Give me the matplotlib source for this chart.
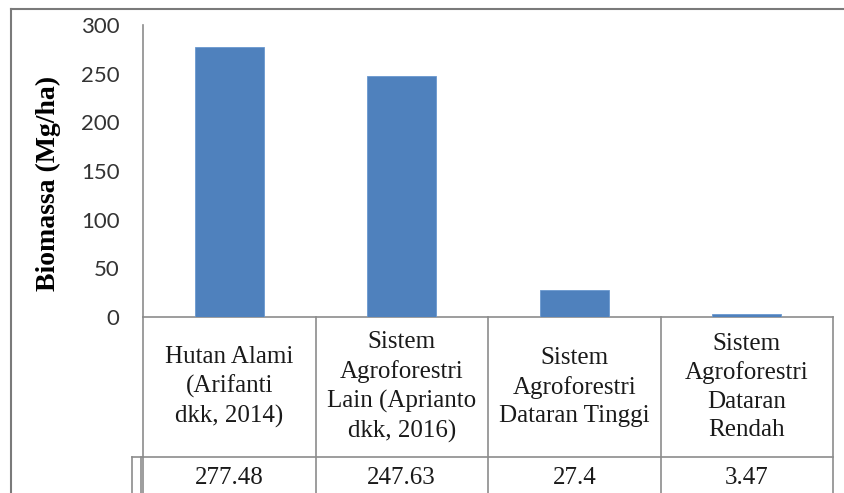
import matplotlib
matplotlib.use("Agg")
import matplotlib.pyplot as plt
from matplotlib.lines import Line2D
from matplotlib.transforms import blended_transform_factory

categories = [
    "Hutan Alami\n(Arifanti\ndkk, 2014)",
    "Sistem\nAgroforestri\nLain (Aprianto\ndkk, 2016)",
    "Sistem\nAgroforestri\nDataran Tinggi",
    "Sistem\nAgroforestri\nDataran\nRendah",
]
values = [277.48, 247.63, 27.4, 3.47]
value_labels = ["277.48", "247.63", "27.4", "3.47"]
yticks = [0, 50, 100, 150, 200, 250, 300]

W, H = 844, 493
fig = plt.figure(figsize=(W / 100, H / 100), dpi=100)
fig.patch.set_facecolor("white")

# axes in pixel geometry: x 143..833, y 25..317
ax = fig.add_axes([143 / W, 1 - 317 / H, 690 / W, 292 / H])
x = list(range(len(values)))
ax.bar(x, values, width=0.4, color="#4F81BD", edgecolor="#6a98cf", linewidth=0.6, zorder=3)
ax.set_xlim(-0.5, len(values) - 0.5)
ax.set_ylim(0, 300)
ax.set_yticks(yticks)
ax.set_yticklabels([str(t) for t in yticks], family="Lato", fontsize=16, color="#333333")
ax.tick_params(axis="y", length=0, pad=17)
ax.set_xticks([])
for s in ["top", "right"]:
    ax.spines[s].set_visible(False)
for s in ["left", "bottom"]:
    ax.spines[s].set_color("#8c8c8c")
    ax.spines[s].set_linewidth(1.2)

# ylabel anchor is its right edge
ax.set_ylabel("Biomassa (Mg/ha)", family="Liberation Serif", fontweight="bold", fontsize=20)
ax.yaxis.set_label_coords((61 - 143) / 690, (317 - 183) / 292)

# data table below the axis
tr = blended_transform_factory(ax.transData, ax.transAxes)
gray = "#8c8c8c"


def yfrac(py):
    return (317 - py) / 292


def xdat(px):
    return (px - 143) / 172.5 - 0.5


bounds = [i - 0.5 for i in range(len(values) + 1)]
row_y = yfrac(457)
bot_y = yfrac(500)
for b in bounds:
    y0 = 0 if b > -0.5 else row_y
    ax.add_line(Line2D([b, b], [y0, bot_y], transform=tr, color=gray, lw=1.2, clip_on=False))
ax.add_line(Line2D([-0.5, -0.5], [0, row_y], transform=tr, color=gray, lw=1.2, clip_on=False))
ax.add_line(Line2D([xdat(141), xdat(141)], [row_y, bot_y], transform=tr, color=gray, lw=1.2, clip_on=False))
ax.add_line(Line2D([xdat(132), xdat(132)], [row_y, bot_y], transform=tr, color=gray, lw=1.2, clip_on=False))
ax.add_line(Line2D([xdat(132), bounds[-1]], [row_y, row_y], transform=tr, color=gray, lw=1.2, clip_on=False))

for i, lab in enumerate(categories):
    ax.text(i, yfrac(387), lab, transform=tr, ha="center", va="center",
            family="Liberation Serif", fontsize=18, linespacing=1.38, color="#1a1a1a")
for i, v in enumerate(value_labels):
    ax.text(i, yfrac(478), v, transform=tr, ha="center", va="center",
            family="Liberation Serif", fontsize=18, color="#1a1a1a")

# outer chart border (left and top only visible)
fig.add_artist(Line2D([11 / W, 11 / W], [1 - 9 / H, 0], color="#7a7a7a", lw=1.5))
fig.add_artist(Line2D([11 / W, 1], [1 - 9 / H, 1 - 9 / H], color="#7a7a7a", lw=1.5))

fig.savefig("out.png", dpi=100)
